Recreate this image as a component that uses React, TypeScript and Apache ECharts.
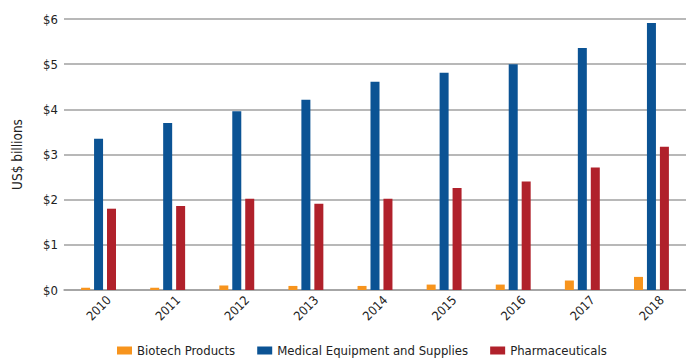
import React, { useEffect, useRef } from "react";
import * as echarts from "echarts";

const years = ["2010", "2011", "2012", "2013", "2014", "2015", "2016", "2017", "2018"];
const biotech = [0.05, 0.05, 0.1, 0.09, 0.09, 0.12, 0.12, 0.21, 0.29];
const medical = [3.35, 3.7, 3.96, 4.21, 4.61, 4.81, 5.0, 5.36, 5.91];
const pharma = [1.8, 1.86, 2.02, 1.91, 2.02, 2.26, 2.4, 2.71, 3.17];
const seriesNames = ["Biotech Products", "Medical Equipment and Supplies", "Pharmaceuticals"];
const colors = ["#f7941d", "#0b5394", "#b0212b"];

const FONT = "'DejaVu Sans Condensed', 'Liberation Sans Narrow', sans-serif";

export default function App() {
  const ref = useRef<HTMLDivElement>(null);

  useEffect(() => {
    if (!ref.current) return;
    const chart = echarts.init(ref.current, undefined, { renderer: "svg" });
    const values = [biotech, medical, pharma];
    chart.setOption({
      animation: false,
      color: colors,
      grid: { left: 64, right: -1, top: 19, bottom: 70 },
      legend: {
        top: 344,
        left: 117,
        padding: 0,
        itemWidth: 15,
        itemHeight: 8,
        itemGap: 22,
        itemTextGap: 5,
        icon: "rect",
        textStyle: { fontFamily: FONT, fontSize: 13, color: "#222" },
        data: seriesNames,
      },
      xAxis: {
        type: "category",
        data: years,
        axisTick: { show: false },
        axisLine: { lineStyle: { color: "#a0a0a0", width: 1.5 } },
        axisLabel: {
          rotate: 45,
          align: "center",
          verticalAlign: "middle",
          margin: 18,
          fontFamily: FONT,
          fontSize: 12.5,
          color: "#222",
        },
      },
      yAxis: {
        type: "value",
        min: 0,
        max: 6,
        interval: 1,
        name: "US$ billions",
        nameLocation: "middle",
        nameGap: 40,
        nameTextStyle: { fontFamily: FONT, fontSize: 13.5, color: "#222" },
        axisLabel: {
          formatter: (v: number) => "$" + v,
          margin: 6,
          fontFamily: FONT,
          fontSize: 13,
          color: "#222",
        },
        splitLine: { lineStyle: { color: "#a0a0a0", width: 1.5 } },
      },
      series: seriesNames.map((name, i) => ({
        name,
        type: "bar",
        data: values[i],
        barWidth: 9,
        barGap: "44%",
      })),
    });
    return () => chart.dispose();
  }, []);

  return (
    <div
      ref={ref}
      style={{ position: "fixed", left: 0, top: 0, width: 686, height: 360, background: "#fff" }}
    />
  );
}
